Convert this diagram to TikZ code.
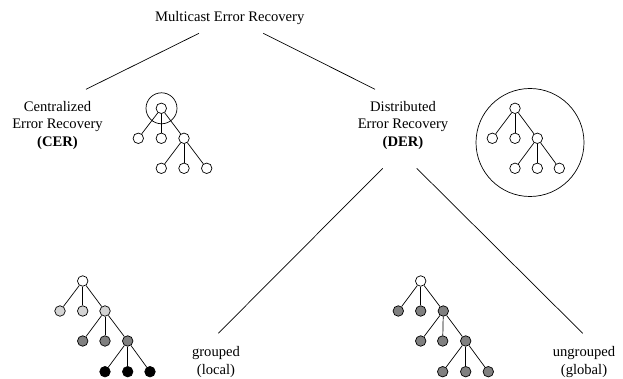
\documentclass[tikz,border=0pt]{standalone}
\usepackage{fontspec}
\setmainfont{Liberation Serif}
\definecolor{lgray}{HTML}{D4D4D4}
\definecolor{dgray}{HTML}{808080}
\begin{document}
\begin{tikzpicture}[x=1pt,y=-1pt,
  tn/.style={circle,draw,minimum size=10.5pt,inner sep=0pt,line width=0.7pt,fill=white},
  tl/.style={circle,tn,fill=lgray},
  td/.style={circle,tn,fill=dgray},
  tb/.style={circle,tn,fill=black},
  ed/.style={line width=0.7pt},
  cn/.style={line width=0.7pt},
  lbl/.style={align=center,inner sep=0pt,font=\fontsize{14.6}{17.5}\selectfont},
  ring/.style={circle,draw,line width=0.7pt,inner sep=0pt}]
\useasboundingbox (0,0) rectangle (623,379);
% labels
\node[lbl] (mer) at (229.7,18.5) {Multicast Error Recovery};
\node[lbl] (cer) at (57.5,125) {Centralized\\Error Recovery\\\textbf{(CER)}};
\node[lbl] (der) at (403,125) {Distributed\\Error Recovery\\\textbf{(DER)}};
\node[lbl] (grp) at (216,362) {grouped\\(local)};
\node[lbl] (ugr) at (584,362) {ungrouped\\(global)};
% connector end points
\coordinate (m1) at (199,33.3);
\coordinate (m2) at (263.3,33.3);
\coordinate (c1e) at (86,89.3);
\coordinate (d1e) at (375,89.3);
\coordinate (dl) at (382.7,168.3);
\coordinate (dr) at (416.7,168.3);
\coordinate (gl) at (218.3,333.3);
\coordinate (ur) at (582.7,333.3);
\draw[cn] (m1) -- (c1e);
\draw[cn] (m2) -- (d1e);
\draw[cn] (dl) -- (gl);
\draw[cn] (dr) -- (ur);
% CER tree
\node[ring,minimum size=31pt] (cring) at (161.5,108.3) {};
\node[tn] (c0) at (161.3,108.3) {};
\node[tn] (c1) at (138.3,138.3) {};
\node[tn] (c2) at (161.3,138.3) {};
\node[tn] (c3) at (184,138.3) {};
\node[tn] (c4) at (161.3,168.3) {};
\node[tn] (c5) at (184,168.3) {};
\node[tn] (c6) at (206.7,168.3) {};
\foreach \a/\b in {c0/c1,c0/c2,c0/c3,c3/c4,c3/c5,c3/c6} \draw[ed] (\a) -- (\b);
% DER tree
\node[ring,minimum size=108pt] (dring) at (530,142.5) {};
\node[tn] (d0) at (515,108.3) {};
\node[tn] (d1) at (492.3,138.3) {};
\node[tn] (d2) at (515,138.3) {};
\node[tn] (d3) at (537.3,138.3) {};
\node[tn] (d4) at (515,168.3) {};
\node[tn] (d5) at (537.3,168.3) {};
\node[tn] (d6) at (559.3,168.3) {};
\foreach \a/\b in {d0/d1,d0/d2,d0/d3,d3/d4,d3/d5,d3/d6} \draw[ed] (\a) -- (\b);
% grouped tree
\node[tn] (g0) at (82.7,281) {};
\node[tl] (g1) at (60,311) {};
\node[tl] (g2) at (82.7,311) {};
\node[tl] (g3) at (105,311) {};
\node[td] (g4) at (82.7,341) {};
\node[td] (g5) at (105,341) {};
\node[td] (g6) at (127.7,341) {};
\node[tb] (g7) at (105,371.7) {};
\node[tb] (g8) at (127.7,371.7) {};
\node[tb] (g9) at (150,371.7) {};
\foreach \a/\b in {g0/g1,g0/g2,g0/g3,g3/g4,g3/g5,g3/g6,g6/g7,g6/g8,g6/g9} \draw[ed] (\a) -- (\b);
% ungrouped tree
\node[tn] (u0) at (420.7,281) {};
\node[td] (u1) at (398.3,311) {};
\node[td] (u2) at (420.7,311) {};
\node[td] (u3) at (443.3,311) {};
\node[td] (u4) at (420.7,341) {};
\node[td] (u5) at (442.7,341) {};
\node[td] (u6) at (465.7,341) {};
\node[td] (u7) at (442.7,371.7) {};
\node[td] (u8) at (465.7,371.7) {};
\node[td] (u9) at (488.3,371.7) {};
\foreach \a/\b in {u0/u1,u0/u2,u0/u3,u3/u4,u3/u5,u3/u6,u6/u7,u6/u8,u6/u9} \draw[ed] (\a) -- (\b);
\end{tikzpicture}
\end{document}
